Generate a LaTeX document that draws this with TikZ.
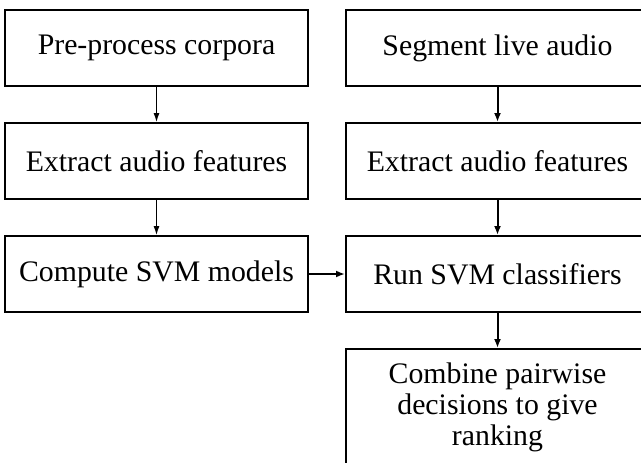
\documentclass[tikz,border=0pt]{standalone}
\usepackage{fontspec}
\setmainfont{Liberation Serif}
\usetikzlibrary{arrows.meta}
\begin{document}
\begin{tikzpicture}[x=1pt,y=-1pt,
  stepbox/.style={draw,line width=2pt,minimum width=303pt,minimum height=76pt,inner sep=0pt,
    align=center,font=\fontsize{29.8}{31}\selectfont},
  thinarrow/.style={line width=1pt,-{Latex[length=9pt,width=6pt]}},
  thickarrow/.style={line width=2pt,-{Latex[length=9pt,width=7pt]}}]
\useasboundingbox (0,0) rectangle (641,463);
\clip (0,0) rectangle (641,463);
\node[stepbox] (l1) at (156.5,48) {Pre-process corpora};
\node[stepbox] (l2) at (156.5,161) {Extract audio features};
\node[stepbox] (l3) at (156.5,274) {Compute SVM models};
\node[stepbox] (r1) at (497.5,48) {Segment live audio};
\node[stepbox] (r2) at (497.5,161) {Extract audio features};
\node[stepbox] (r3) at (497.5,274) {Run SVM classifiers};
\node[stepbox,minimum height=116pt] (r4) at (497.5,407) {Combine pairwise\\decisions to give\\ranking};
\draw[thinarrow] (l1) -- (l2);
\draw[thinarrow] (l2) -- (l3);
\draw[thickarrow] (r1) -- (r2);
\draw[thickarrow] (r2) -- (r3);
\draw[thickarrow] (r3) -- (r4);
\draw[thickarrow] (l3) -- (r3);
\end{tikzpicture}
\end{document}
